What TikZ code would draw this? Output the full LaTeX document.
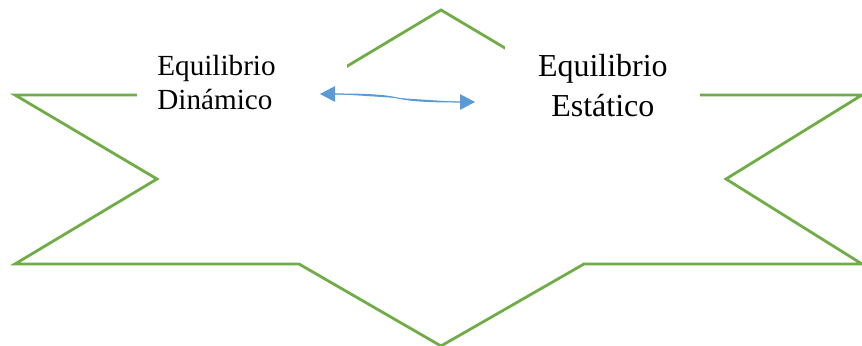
\documentclass[tikz,border=0pt]{standalone}
\usepackage{fontspec}
\setmainfont{Liberation Serif}
\usepackage{xcolor}
\usepackage{tikz}
\usetikzlibrary{arrows.meta,positioning}
\definecolor{stargreen}{HTML}{70AD47}
\definecolor{linkblue}{HTML}{5B9BD5}
\tikzset{
  starline/.style  = {draw=stargreen, line width=1.6pt, line join=miter},
  dynbox/.style    = {rectangle, fill=white, anchor=north west, inner xsep=4mm,
                      inner ysep=0pt, text width=34mm, minimum height=17mm,
                      align=left, font=\fontsize{16.6}{19.3}\selectfont},
  estbox/.style    = {rectangle, fill=white, anchor=north west, inner xsep=0pt,
                      inner ysep=0pt, text width=39mm, minimum height=18mm,
                      align=center, font=\fontsize{18.2}{22.7}\selectfont},
  linkflow/.style  = {{Triangle[length=3mm,width=3.1mm]}-{Triangle[length=3mm,width=3.1mm]},
                      draw=linkblue, fill=linkblue, line width=0.6pt},
}

\begin{document}
\begin{tikzpicture}[x=0.2mm,y=-0.2mm]
  \useasboundingbox (0,0) rectangle (862,346);
  \fill[white] (0,0) rectangle (862,346);

  % six-pointed star
  \draw[starline] (441,10) -- (584,95) -- (862,95) -- (726,179) -- (862,264)
    -- (584,264) -- (441,346) -- (299,264) -- (15,264) -- (157,179)
    -- (15,95) -- (299,95) -- cycle;

  \node[dynbox] (dyn) at (137,40) {Equilibrio\\Dinámico};
  \node[estbox] (est) at (505,40) {Equilibrio\\Estático};

  \coordinate (dynend) at (320,94);
  \coordinate (estend) at (475,102);
  \draw[linkflow] (dynend) .. controls (420,94) and (375,102) .. (estend);
\end{tikzpicture}
\end{document}
